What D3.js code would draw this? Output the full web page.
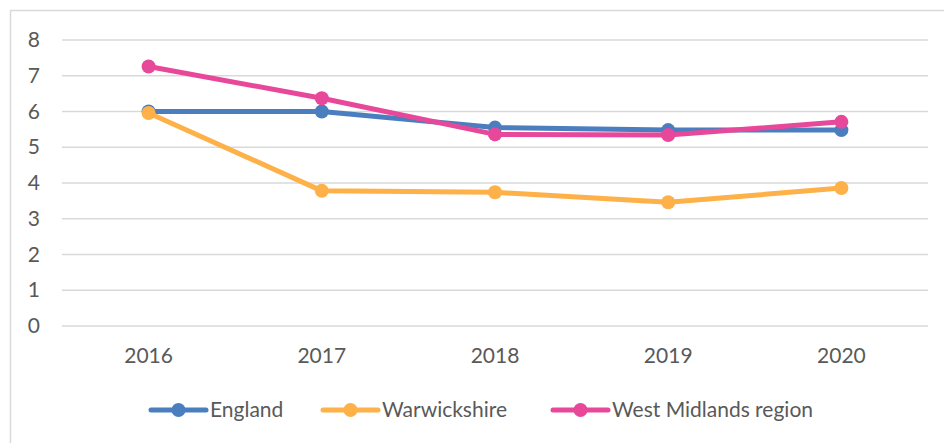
<!DOCTYPE html>
<html><head><meta charset="utf-8">
<script src="https://cdn.jsdelivr.net/npm/d3@7"></script>
<style>body{margin:0;background:#fff}svg{display:block}text{font-family:Lato,"Open Sans",sans-serif;fill:#595959}</style>
</head><body><svg id="c" width="944" height="443"></svg>
<script>
const years = ["2016","2017","2018","2019","2020"];
const england = [6.0, 6.0, 5.55, 5.48, 5.48];
const warwickshire = [5.96, 3.78, 3.74, 3.46, 3.86];
const westMidlands = [7.26, 6.37, 5.36, 5.34, 5.71];
const yTicks = [0,1,2,3,4,5,6,7,8];
const seriesNames = ["England","Warwickshire","West Midlands region"];
const seriesColors = ["#4a7ebf","#fdb148","#e8489a"];
const seriesData = [england, warwickshire, westMidlands];

const svg = d3.select("#c");
svg.append("rect").attr("x",10.5).attr("y",10.5).attr("width",940).attr("height",440)
  .attr("fill","#fff").attr("stroke","#d9d9d9").attr("stroke-width",1.5);

const x = d3.scaleBand().domain(years).range([62,928]);
const y = d3.scaleLinear().domain([0,8]).range([326,40]);

const grid = svg.append("g");
grid.selectAll("line").data(yTicks).join("line")
  .attr("x1",62).attr("x2",928).attr("y1",d=>y(d)).attr("y2",d=>y(d))
  .attr("stroke","#d9d9d9").attr("stroke-width",1.5);

const yAxis = svg.append("g").attr("transform","translate(44,0)")
  .call(d3.axisLeft(y).tickValues(yTicks).tickSize(0).tickPadding(0));
yAxis.select(".domain").remove();
yAxis.selectAll("text").style("font-size","21px").attr("fill","#595959").attr("x",-4);

const xAxis = svg.append("g").attr("transform","translate(0,326)")
  .call(d3.axisBottom(x).tickSize(0).tickPadding(22));
xAxis.select(".domain").remove();
xAxis.selectAll("text").style("font-size","21px").attr("fill","#595959");

const line = d3.line().x((d,i)=>x(years[i])+x.bandwidth()/2).y(d=>y(d));
seriesData.forEach((vals,k)=>{
  const g = svg.append("g");
  g.append("path").datum(vals).attr("d",line).attr("fill","none")
    .attr("stroke",seriesColors[k]).attr("stroke-width",5).attr("stroke-linejoin","round");
  g.selectAll("circle").data(vals).join("circle")
    .attr("cx",(d,i)=>x(years[i])+x.bandwidth()/2).attr("cy",d=>y(d)).attr("r",7)
    .attr("fill",seriesColors[k]);
});

// legend
const legX = [151, 323, 553];
const leg = svg.append("g");
seriesNames.forEach((n,k)=>{
  const g = leg.append("g").attr("transform",`translate(${legX[k]},410)`);
  g.append("line").attr("x1",0).attr("x2",55).attr("stroke",seriesColors[k]).attr("stroke-width",5).attr("stroke-linecap","round");
  g.append("circle").attr("cx",27.5).attr("r",7).attr("fill",seriesColors[k]);
  g.append("text").attr("x",59).attr("dy","0.35em").style("font-size","21px").text(n);
});
</script></body></html>
